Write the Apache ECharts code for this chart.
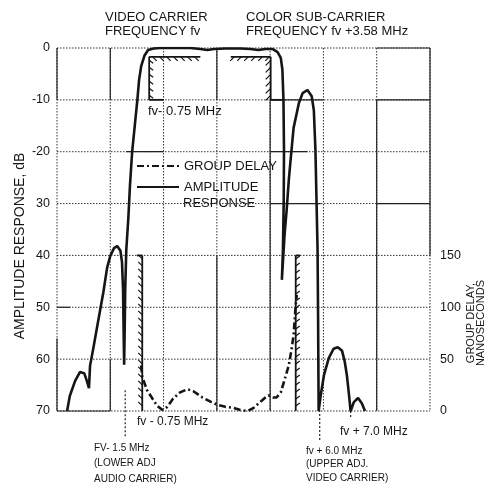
<!DOCTYPE html>
<html><head><meta charset="utf-8">
<script src="https://cdn.jsdelivr.net/npm/echarts@6/dist/echarts.min.js"></script>
<style>html,body{margin:0;padding:0;background:#fff}#c{width:491px;height:485px}</style>
</head><body><div id="c"></div>
<script>
// x: frequency position in grid divisions (0..7); amplitude: dB below reference (axis shown inverted); delay: ns
const ampX = [0.19,0.24,0.34,0.43,0.51,0.56,0.60,0.62,0.68,0.77,0.87,0.94,1.00,1.07,1.13,1.19,1.22,1.24,1.25,1.26,1.27,1.28,1.30,1.34,1.37,1.41,1.47,1.51,1.54,1.58,1.64,1.71,1.81,1.94,2.22,2.50,2.69,2.82,2.95,3.16,3.44,3.63,3.78,3.91,4.05,4.14,4.20,4.23,4.25,4.26,4.255,4.24,4.22,4.27,4.31,4.35,4.38,4.44,4.54,4.61,4.70,4.78,4.82,4.85,4.87,4.89,4.90,4.91,4.95,5.01,5.10,5.19,5.27,5.35,5.40,5.44,5.48,5.51,5.57,5.65,5.72,5.78];
const ampDb = [70,67.1,64.2,62.5,62.7,64.2,65.6,61.3,58.0,52.8,47.1,42.4,40.1,38.6,38.2,39.1,41.3,46.7,54.4,61.1,54.4,46.7,39.0,32.6,26.4,20.1,13.9,9.8,6.2,3.5,1.5,0.4,0.1,0,0,0,0.2,0.4,0.2,0.1,0.1,0.2,0.4,0.2,0.2,0.8,1.9,4.2,10.0,19.7,29.3,39.0,44.7,36.1,31.2,25.5,22.0,15.4,10.6,8.7,8.1,9.3,12.0,19.7,29.3,39.0,52.4,70,66.9,63.1,59.8,58.0,57.7,58.4,60.5,63.1,66.9,70,68.3,67.5,68.5,70];
const gdX = [1.58,1.60,1.69,1.79,1.88,1.98,2.07,2.18,2.31,2.45,2.56,2.73,2.88,3.01,3.16,3.31,3.44,3.58,3.69,3.82,3.91,3.97,4.05,4.12,4.20,4.27,4.35,4.40,4.44,4.46,4.48,4.50];
const gdNs = [44,33,20,12,5,1,4,12,18,21,19,13,9,6,4,3,1,0,3,9,13,15,13,13,18,30,44,59,73,88,102,112];
const yTickLabels = ['0','-10','-20','30','40','50','60','70'];
const gdTickLabels = ['0','50','100','150'];
// grid-paper rulings (axis units)
const gridXTicks = [0,1,2,3,4,5,6,7];
const gridYTicks = [0,10,20,30,40,50,60,70];
// specification masks [x1, y1, x2, y2]
const ampMask = [[1.73,1.7,2.69,1.7],[1.73,1.7,1.73,10],[1.73,10,2.0,10],[3.26,1.7,4.01,1.7],[4.01,1.7,4.01,10],[4.01,10,4.25,10]];
const gdMask = [[1.50,150,1.60,150],[1.60,150,1.60,0],[4.48,150,4.56,150],[4.48,150,4.48,0]];
// frequency marker lines [x, yTop dB, yBottom dB]
const markers = [[1.28,66,75],[4.93,69.8,75.6],[5.51,70,71.4]];
// solid portions of the graph-paper grid [x1, y1, x2, y2]
const solidGrid = [[0,0,0,10],[0,56,0,70],[0,70,1,70],[0,50,0.25,50],[1,0,1,10],[1,60,1,70],[3,0,3,10],[3,40,3,70],[4,10,4,70],[6,10,6,70],[7,0,7,40],[4,10,5,10],[6,10,7,10],[6,0,7,0],[1.3,20,2,20],[4,20,4.7,20],[4,30,4.95,30],[6,30,7,30]];

// styles (not data)
const ampHatch = [[4,4],[4,3],null,[-4,4],[-5,5],null];
const gdHatch = [null,[-4,-4],null,[4,-3]];
const INK = '#151515';
const FONT = '"Liberation Sans", Arial, sans-serif';

const xMin = gridXTicks[0], xMax = gridXTicks[gridXTicks.length-1];
const yMin = gridYTicks[0], yMax = gridYTicks[gridYTicks.length-1];
const dottedGrid = gridXTicks.map(x => [x, yMin, x, yMax]).concat(gridYTicks.map(y => [xMin, y, xMax, y]));

function seg(p1, p2, stroke, w, dash) {
  return {type:'line', shape:{x1:p1[0],y1:p1[1],x2:p2[0],y2:p2[1]}, style:{stroke:stroke, lineWidth:w, lineDash:dash||null}};
}
function maskRender(hatches) {
  return function(params, api) {
    const p1 = api.coord([api.value(0), api.value(1)]);
    const p2 = api.coord([api.value(2), api.value(3)]);
    const children = [seg(p1, p2, INK, 1.8)];
    const h = hatches[params.dataIndex];
    if (h) {
      const len = Math.hypot(p2[0]-p1[0], p2[1]-p1[1]);
      const step = 7;
      for (let d = step/2; d < len; d += step) {
        const t = d/len;
        const x = p1[0]+(p2[0]-p1[0])*t, y = p1[1]+(p2[1]-p1[1])*t;
        children.push(seg([x,y],[x+h[0],y+h[1]], INK, 1.2));
      }
    }
    return {type:'group', children};
  };
}
function lineRender(stroke, w, dash) {
  return (params, api) => seg(api.coord([api.value(0),api.value(1)]), api.coord([api.value(2),api.value(3)]), stroke, w, dash);
}

const chart = echarts.init(document.getElementById('c'), null, {renderer:'canvas'});
chart.setOption({
  backgroundColor:'#fff',
  animation:false,
  grid:{left:57, top:48, width:373, height:363},
  xAxis:{type:'value', min:xMin, max:xMax, interval:1, axisLabel:{show:false}, axisTick:{show:false}, axisLine:{show:false}, splitLine:{show:false}},
  yAxis:[
    {type:'value', inverse:true, min:yMin, max:yMax, interval:10, axisLine:{show:false}, axisTick:{show:false}, splitLine:{show:false},
      axisLabel:{margin:7, color:INK, fontFamily:FONT, fontSize:12.5, formatter:v => yTickLabels[Math.round(v/10)] || ''}},
    {type:'value', position:'right', min:0, max:350, interval:50, axisLine:{show:false}, axisTick:{show:false}, splitLine:{show:false},
      axisLabel:{margin:10, color:INK, fontFamily:FONT, fontSize:12.5, formatter:v => gdTickLabels[Math.round(v/50)] || ''}}
  ],
  legend:[
    {data:['GROUP DELAY'], left:136, top:158, padding:0, itemWidth:42, itemHeight:10, selectedMode:false,
      itemStyle:{opacity:0},
      textStyle:{color:INK, fontFamily:FONT, fontSize:13, lineHeight:16}},
    {data:['AMPLITUDE RESPONSE'], left:136, top:179, padding:0, itemWidth:42, itemHeight:10, selectedMode:false,
      itemStyle:{opacity:0},
      formatter:() => 'AMPLITUDE',
      textStyle:{color:INK, fontFamily:FONT, fontSize:13, lineHeight:16}}
  ],
  graphic:[
    {type:'text', x:105, y:10, style:{text:'VIDEO CARRIER\nFREQUENCY fv', font:'13px '+FONT, fill:INK, lineHeight:14}},
    {type:'text', x:246, y:10, style:{text:'COLOR SUB-CARRIER\nFREQUENCY fv +3.58 MHz', font:'13px '+FONT, fill:INK, lineHeight:14}},
    {type:'text', x:148, y:111, style:{text:'fv- 0.75 MHz', font:'13px '+FONT, fill:INK, verticalAlign:'middle'}},
    {type:'text', x:183, y:203, style:{text:'RESPONSE', font:'13px '+FONT, fill:INK, verticalAlign:'middle'}},
    {type:'text', x:137, y:422, style:{text:'fv - 0.75 MHz', font:'12px '+FONT, fill:INK, verticalAlign:'middle'}},
    {type:'text', x:94, y:440, style:{text:'FV- 1.5 MHz\n(LOWER ADJ\nAUDIO CARRIER)', font:'10px '+FONT, fill:INK, lineHeight:15.5}},
    {type:'text', x:340, y:432, style:{text:'fv + 7.0 MHz', font:'12px '+FONT, fill:INK, verticalAlign:'middle'}},
    {type:'text', x:306, y:444, style:{text:'fv + 6.0 MHz\n(UPPER ADJ.\nVIDEO CARRIER)', font:'10px '+FONT, fill:INK, lineHeight:13.5}},
    {type:'text', x:20, y:246, rotation:Math.PI/2, style:{text:'AMPLITUDE RESPONSE, dB', font:'14px '+FONT, fill:INK, align:'center', verticalAlign:'middle'}},
    {type:'text', x:476, y:323, rotation:Math.PI/2, style:{text:'GROUP DELAY,\nNANOSECONDS', font:'11px '+FONT, fill:INK, align:'center', verticalAlign:'middle', lineHeight:10}}
  ],
  series:[
    {type:'custom', name:'rulings', silent:true, z:1, yAxisIndex:0, data:dottedGrid, encode:{x:[0,2], y:[1,3]},
      renderItem:lineRender('#333', 1, [1.5,1.5])},
    {type:'custom', name:'solidRulings', silent:true, z:1, yAxisIndex:0, data:solidGrid, encode:{x:[0,2], y:[1,3]},
      renderItem:lineRender('#222', 1.2)},
    {type:'custom', name:'markers', silent:true, z:2, yAxisIndex:0, clip:false, data:markers, encode:{x:0, y:[1,2]},
      renderItem:(params, api) => seg(api.coord([api.value(0),api.value(1)]), api.coord([api.value(0),api.value(2)]), '#222', 1.2, [2,2])},
    {type:'custom', name:'ampMask', silent:true, z:3, yAxisIndex:0, data:ampMask, encode:{x:[0,2], y:[1,3]}, renderItem:maskRender(ampHatch)},
    {type:'custom', name:'gdMask', silent:true, z:3, yAxisIndex:1, data:gdMask, encode:{x:[0,2], y:[1,3]}, renderItem:maskRender(gdHatch)},
    {type:'line', name:'GROUP DELAY', yAxisIndex:1, z:5, symbol:'none', smooth:false,
      data:gdX.map((x,i) => [x, gdNs[i]]), lineStyle:{color:INK, width:2.6, type:[7,3,2,3]}, itemStyle:{color:INK}},
    {type:'line', name:'AMPLITUDE RESPONSE', yAxisIndex:0, z:6, symbol:'none', smooth:false,
      data:ampX.map((x,i) => [x, ampDb[i]]), lineStyle:{color:INK, width:2.6}, itemStyle:{color:INK}}
  ]
});
</script></body></html>
